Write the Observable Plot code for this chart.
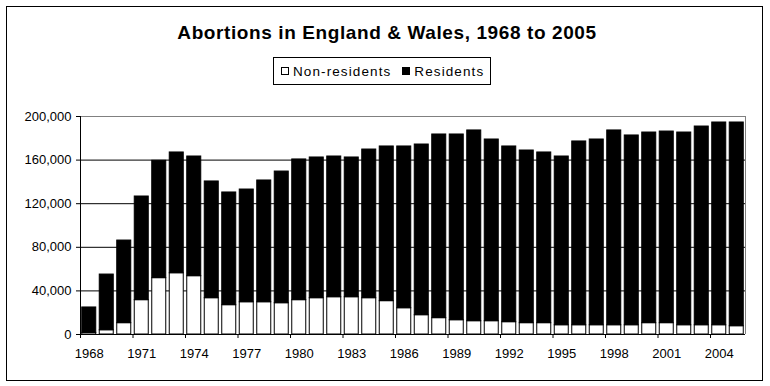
<!DOCTYPE html>
<html>
<head>
<meta charset="utf-8">
<script src="https://cdn.jsdelivr.net/npm/d3@7"></script>
<script src="https://cdn.jsdelivr.net/npm/@observablehq/plot@0.6"></script>
<style>
  html, body { margin: 0; padding: 0; background: white; }
  #wrap { position: relative; width: 770px; height: 386px; background: white; font-family: "Liberation Sans", Arial, sans-serif; color: black; }
  #frame { position: absolute; left: 6px; top: 6px; width: 757px; height: 375px; border: 1px solid black; box-sizing: border-box; pointer-events: none; }
  #title { position: absolute; left: 0; width: 774px; top: 22px; text-align: center; font-weight: bold; font-size: 19px; letter-spacing: 0.6px; line-height: 22px; }
  #legend { position: absolute; left: 273px; top: 57px; width: 218px; height: 28px; border: 1px solid black; box-sizing: border-box; font-size: 13.5px; letter-spacing: 1.1px; display: flex; align-items: center; padding-left: 7px; white-space: nowrap; }
  .sw { display: inline-block; width: 8px; height: 8px; border: 1px solid black; box-sizing: border-box; margin-right: 4px; }
  .item { display: flex; align-items: center; margin-right: 11px; }
  #plot { position: absolute; left: 0; top: 100px; }
</style>
</head>
<body>
<div id="wrap">
  <div id="title">Abortions in England &amp; Wales, 1968 to 2005</div>
  <div id="legend">
    <span class="item"><span class="sw" style="background:white"></span>Non-residents</span>
    <span class="item"><span class="sw" style="background:black"></span>Residents</span>
  </div>
  <div id="plot"></div>
  <div id="frame"></div>
</div>
<script>
const years = [1968, 1969, 1970, 1971, 1972, 1973, 1974, 1975, 1976, 1977,
  1978, 1979, 1980, 1981, 1982, 1983, 1984, 1985, 1986, 1987,
  1988, 1989, 1990, 1991, 1992, 1993, 1994, 1995, 1996, 1997,
  1998, 1999, 2000, 2001, 2002, 2003, 2004, 2005];
const nonResidents = [1500, 3900, 10400, 31500, 51700, 56200, 53500, 33300, 26900, 29600,
  29600, 28700, 31500, 33300, 34200, 34200, 33300, 30600, 24100, 17700,
  15000, 13100, 12200, 12200, 11300, 10400, 10400, 8500, 8500, 8500,
  8500, 8500, 10400, 10400, 8500, 8500, 8500, 7600];
const residents = [23300, 51100, 75800, 95100, 107700, 110800, 109800, 107100, 103400, 103400,
  111700, 120800, 129100, 129100, 129100, 128200, 136400, 141900, 148400, 156600,
  168500, 170400, 175000, 166700, 161200, 158400, 156600, 154800, 168600, 170400,
  178700, 174100, 174900, 175800, 176800, 182300, 186000, 186900];
const yTicks = [0, 40000, 80000, 120000, 160000, 200000];
const xTickYears = [1968, 1971, 1974, 1977, 1980, 1983, 1986, 1989, 1992, 1995, 1998, 2001, 2004];

const data = years.map((y, i) => ({year: y, non: nonResidents[i], res: residents[i]}));

const chart = Plot.plot({
  width: 770,
  height: 260,
  marginLeft: 80,
  marginRight: 25,
  marginTop: 16,
  marginBottom: 26,
  style: {fontFamily: "'Liberation Sans', Arial, sans-serif", fontSize: "13px", background: "white", color: "black"},
  x: {type: "linear", domain: [1968, 2006]},
  y: {domain: [0, 200000]},
  marks: [
    Plot.ruleY(yTicks.slice(1, 5), {stroke: "black"}),
    Plot.ruleY([200000], {stroke: "#808080"}),
    Plot.ruleX([2006], {y1: 0, y2: 200000, stroke: "#808080"}),
    Plot.rectY(data, {x1: "year", x2: d => d.year + 1, y1: 0, y2: "non", fill: "white", stroke: "black", insetLeft: 1.75, insetRight: 1.75}),
    Plot.rectY(data, {x1: "year", x2: d => d.year + 1, y1: "non", y2: d => d.non + d.res, fill: "black", stroke: "black", insetLeft: 1.75, insetRight: 1.75}),
    Plot.ruleX([1968], {y1: 0, y2: 200000, stroke: "black"}),
    Plot.ruleY([0], {stroke: "black"}),
    Plot.axisY({ticks: yTicks, tickFormat: d3.format(","), tickSize: 4, tickPadding: 5, fontSize: 13, label: null, stroke: "black"}),
    Plot.axisX({ticks: xTickYears, tickSize: 4, tickFormat: () => "", label: null, stroke: "black"}),
    Plot.text(xTickYears, {x: d => d + 0.5, y: 0, dy: 19.5, text: d => String(d), fontSize: 13, fill: "black"})
  ]
});
document.getElementById("plot").appendChild(chart);
</script>
</body>
</html>
